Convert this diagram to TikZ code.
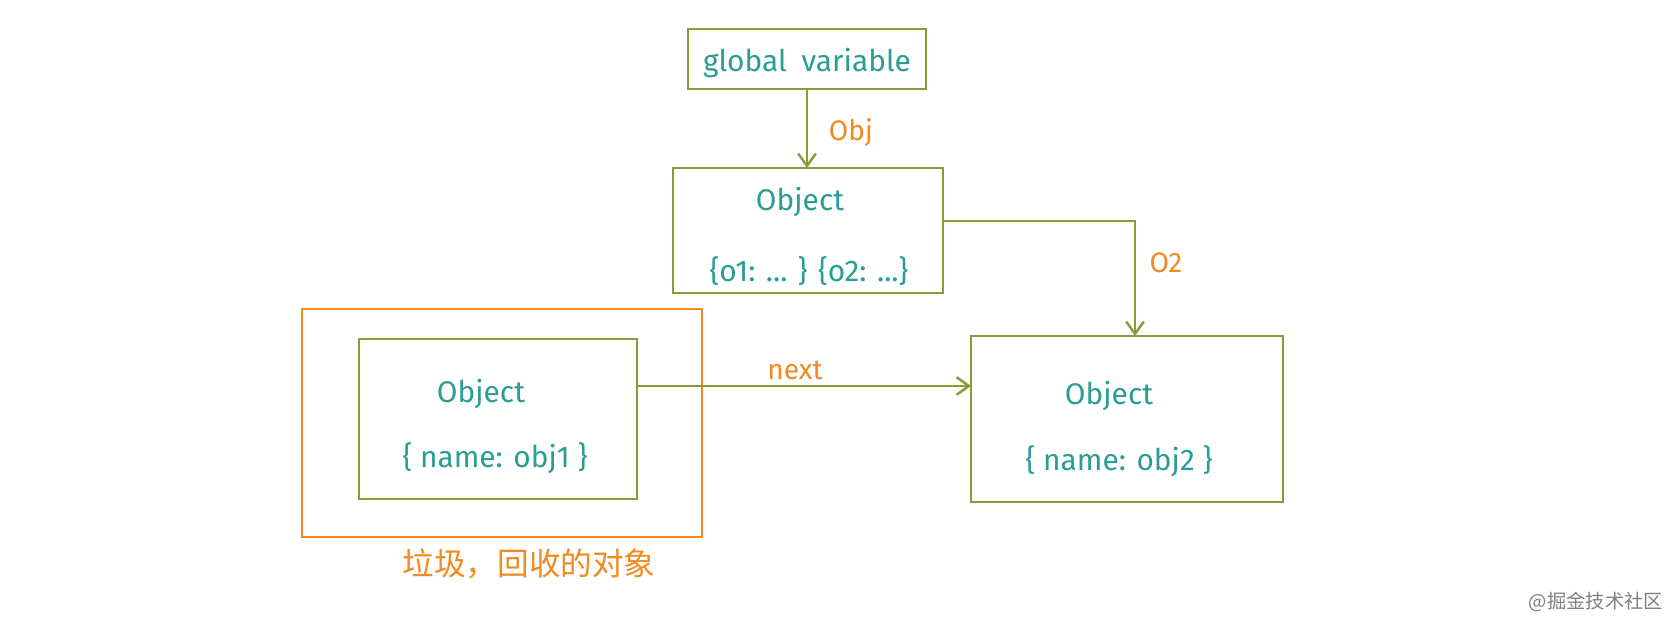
\documentclass[tikz,border=0pt]{standalone}
\usepackage{fontspec}
\setmainfont{Fira Sans}
\newfontfamily\cjk{Noto Sans CJK SC}
\usetikzlibrary{arrows.meta}
\definecolor{olive}{HTML}{8C9A3C}
\definecolor{tealt}{HTML}{2A9D95}
\definecolor{orng}{HTML}{F28A1E}
\tikzset{
 box/.style={draw=olive,line width=1.4pt},
 tt/.style={text=tealt,font=\fontsize{17}{20}\selectfont},
 ot/.style={text=orng,font=\fontsize{16}{19}\selectfont},
 conn/.style={draw=olive,line width=1.4pt,-{Straight Barb[length=7pt,width=10pt]}}
}
\begin{document}
\begin{tikzpicture}[x=0.02cm,y=-0.02cm]
\useasboundingbox[fill=white] (0,0) rectangle (1668,622);
\draw[box] (688,29) rectangle (926,89);
\node[tt] (gv) at (807,63) {global\enspace variable};
\coordinate (gvb) at (807,89);
\draw[box] (673,168) rectangle (943,293);
\node[tt] (o0) at (800,202) {Object};
\node[tt] (o0b) at (809,271) {\{o1: ... \} \{o2: ...\}};
\coordinate (o0t) at (807,168);
\coordinate (o0r) at (943,221);
\draw[orng,line width=1.4pt] (302,309) rectangle (702,537);
\draw[box] (359,339) rectangle (637,499);
\node[tt] (o1) at (481,394) {Object};
\node[tt] (o1b) at (495,458) {\{ name: obj1 \}};
\coordinate (o1r) at (637,386);
\draw[box] (971,336) rectangle (1283,502);
\node[tt] (o2) at (1109,396) {Object};
\node[tt] (o2b) at (1119,461) {\{ name: obj2 \}};
\coordinate (o2l) at (971,386);
\coordinate (o2t) at (1135,336);
\draw[conn] (gvb) -- (o0t);
\node[ot] (lobj) at (851,133) {Obj};
\draw[conn] (o0r) -| (o2t);
\node[ot] (lo2) at (1166,263) {O2};
\draw[conn] (o1r) -- (o2l);
\node[ot] (lnext) at (795,370) {next};
\node[ot,font=\cjk\fontsize{18}{21}\selectfont] (garb) at (529,564) {垃圾，回收的对象};
\node[text=gray,font=\cjk\fontsize{11}{13}\selectfont] (wm) at (1596,602) {@掘金技术社区};
\end{tikzpicture}
\end{document}
